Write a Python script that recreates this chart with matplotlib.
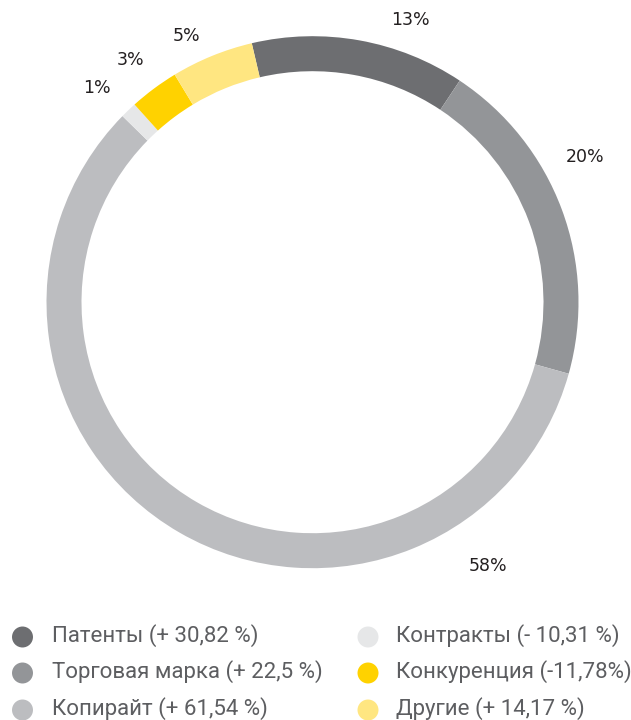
import matplotlib
matplotlib.use("Agg")
import matplotlib.pyplot as plt

categories = ["Патенты", "Торговая марка", "Копирайт", "Контракты", "Конкуренция", "Другие"]
shares = [13, 20, 58, 1, 3, 5]
changes = ["(+ 30,82 %)", "(+ 22,5 %)", "(+ 61,54 %)", "(- 10,31 %)", "(-11,78%)", "(+ 14,17 %)"]
colors = ["#6d6e71", "#939598", "#bcbdc0", "#e6e7e8", "#ffd200", "#ffe681"]
# manual label positions (pixel coordinates from top-left)
label_pos = [(410, 20), (585, 157), (488, 566), (97, 88), (131, 60), (187, 36)]

W, H = 631, 720
fig = plt.figure(figsize=(W / 100, H / 100), dpi=100)
plt.rcParams['font.family'] = ['Roboto', 'DejaVu Sans']

cx, cy, R = 312.5, 302.2, 266
ax = fig.add_axes([(cx - R) / W, (H - cy - R) / H, 2 * R / W, 2 * R / H])
ax.pie(shares, colors=colors, startangle=90 + 13.2, counterclock=False,
       radius=1, wedgeprops=dict(width=35 / R, edgecolor="none", linewidth=0))
ax.set_xlim(-1, 1)
ax.set_ylim(-1, 1)
ax.set_aspect("equal")
ax.axis("off")

for s, (px, py) in zip(shares, label_pos):
    fig.text(px / W, 1 - py / H, f"{s}%", ha="center", va="center",
             fontsize=12.5, color="#231f20", family=["DejaVu Sans"])

# legend
lax = fig.add_axes([0, 0, 1, 1])
lax.set_xlim(0, W)
lax.set_ylim(H, 0)
lax.axis("off")
rows_y = [637, 673, 710]
col_marker_x = [22.5, 368]
col_text_x = [52, 396]
for i, (cat, ch, col) in enumerate(zip(categories, changes, colors)):
    c, r = divmod(i, 3)
    lax.scatter([col_marker_x[c]], [rows_y[r]], s=228, color=col, edgecolors="none")
    lax.text(col_text_x[c], rows_y[r] - 1, f"{cat} {ch}", ha="left", va="center",
             fontsize=16, color="#5d5e61", fontweight="normal")

fig.savefig("out.png", dpi=100)
